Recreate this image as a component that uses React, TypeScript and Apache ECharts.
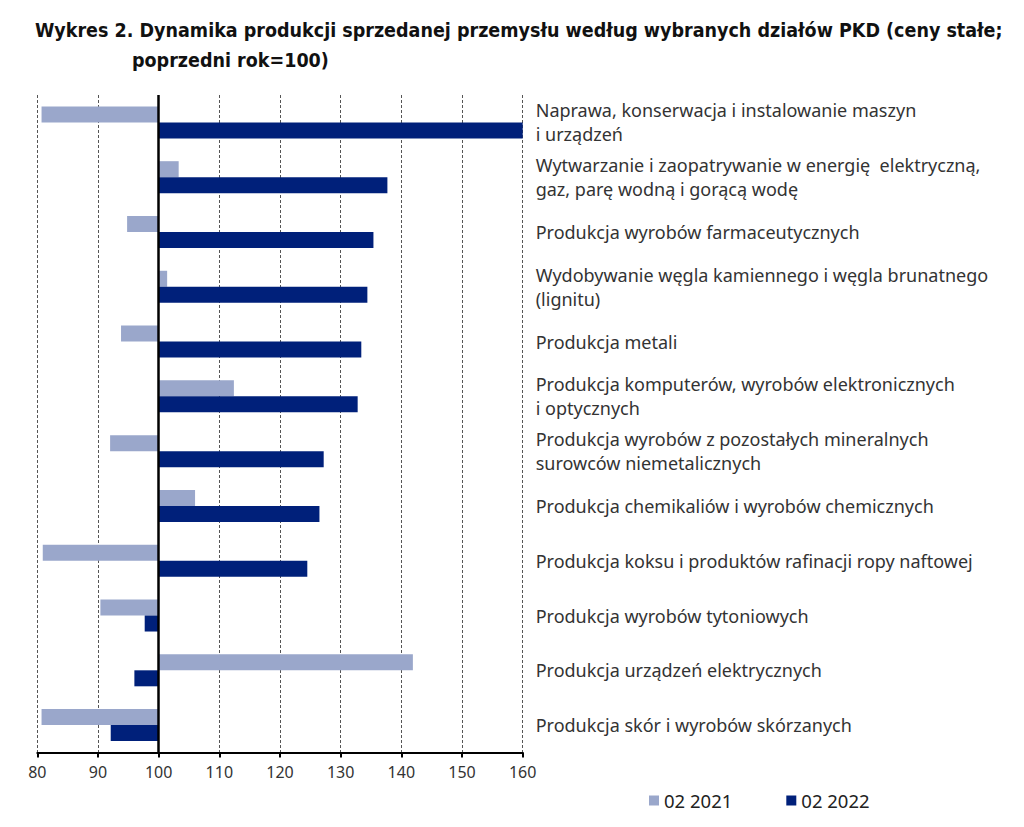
import React, { useEffect, useRef } from "react";
import * as echarts from "echarts";

const categories = [
  "Naprawa, konserwacja i instalowanie maszyn\ni urządzeń",
  "Wytwarzanie i zaopatrywanie w energię  elektryczną,\ngaz, parę wodną i gorącą wodę",
  "Produkcja wyrobów farmaceutycznych",
  "Wydobywanie węgla kamiennego i węgla brunatnego\n(lignitu)",
  "Produkcja metali",
  "Produkcja komputerów, wyrobów elektronicznych\ni optycznych",
  "Produkcja wyrobów z pozostałych mineralnych\nsurowców niemetalicznych",
  "Produkcja chemikaliów i wyrobów chemicznych",
  "Produkcja koksu i produktów rafinacji ropy naftowej",
  "Produkcja wyrobów tytoniowych",
  "Produkcja urządzeń elektrycznych",
  "Produkcja skór i wyrobów skórzanych",
];

const values2021 = [80.7, 103.3, 94.8, 101.4, 93.8, 112.4, 92.0, 106.0, 80.9, 90.4, 141.9, 80.7];
const values2022 = [160.0, 137.7, 135.4, 134.4, 133.4, 132.8, 127.2, 126.5, 124.5, 97.7, 96.0, 92.1];

const seriesNames = ["02 2021", "02 2022"];
const BASE = 100;
const axisMin = 80;
const axisMax = 160;
const axisStep = 10;

const FONT = "'Noto Sans', 'Open Sans', sans-serif";
const TITLE_FONT = "'DejaVu Sans Condensed', 'Noto Sans', sans-serif";

export default function App() {
  const ref = useRef<HTMLDivElement>(null);

  useEffect(() => {
    document.body.style.margin = "0";
    const chart = echarts.init(ref.current!, null, { renderer: "svg" });
    chart.setOption({
      animation: false,
      backgroundColor: "#ffffff",
      title: [
        {
          text: "Wykres 2. Dynamika produkcji sprzedanej przemysłu według wybranych działów PKD (ceny stałe;",
          left: 30,
          top: 15,
          textStyle: { fontFamily: TITLE_FONT, fontWeight: "bold", fontSize: 19.5, color: "#111" },
        },
        {
          text: "poprzedni rok=100)",
          left: 127,
          top: 45,
          textStyle: { fontFamily: TITLE_FONT, fontWeight: "bold", fontSize: 19.5, color: "#111" },
        },
      ],
      legend: {
        data: seriesNames,
        left: 644,
        top: 786,
        itemWidth: 10,
        itemHeight: 10,
        itemGap: 54,
        icon: "rect",
        textStyle: { fontFamily: FONT, fontSize: 18.5, color: "#222" },
      },
      grid: { left: 37.3, right: 1024 - 522.7, top: 95, bottom: 827 - 752.5, containLabel: false },
      xAxis: {
        type: "value",
        min: axisMin - BASE,
        max: axisMax - BASE,
        interval: axisStep,
        axisLine: { show: true, lineStyle: { color: "#000", width: 2 } },
        axisTick: { show: true, inside: false, length: 5, lineStyle: { color: "#000", width: 2 } },
        axisLabel: {
          formatter: (v: number) => String(v + BASE),
          fontFamily: FONT,
          fontSize: 16,
          color: "#333",
          margin: 11,
        },
        splitLine: { show: true, lineStyle: { color: "#555", type: [3, 2], width: 1 } },
      },
      yAxis: {
        type: "category",
        data: categories,
        inverse: true,
        position: "right",
        axisLine: { show: false, onZero: false },
        axisTick: { show: false },
        axisLabel: {
          fontFamily: FONT,
          fontSize: 18,
          color: "#333",
          lineHeight: 24,
          margin: 13,
          align: "left",
        },
      },
      series: [
        {
          name: seriesNames[0],
          type: "bar",
          data: values2021.map((v) => v - BASE),
          barWidth: 16,
          barGap: "0%",
          itemStyle: { color: "#9AA7CB" },
          markLine: {
            silent: true,
            symbol: "none",
            label: { show: false },
            lineStyle: { color: "#000", type: "solid", width: 2.5 },
            data: [{ xAxis: 0 }],
          },
          z: 3,
        },
        {
          name: seriesNames[1],
          type: "bar",
          data: values2022.map((v) => v - BASE),
          barWidth: 16,
          barGap: "0%",
          itemStyle: { color: "#00207A" },
          z: 3,
        },
      ],
    });
    return () => chart.dispose();
  }, []);

  return <div ref={ref} style={{ width: 1024, height: 827 }} />;
}
